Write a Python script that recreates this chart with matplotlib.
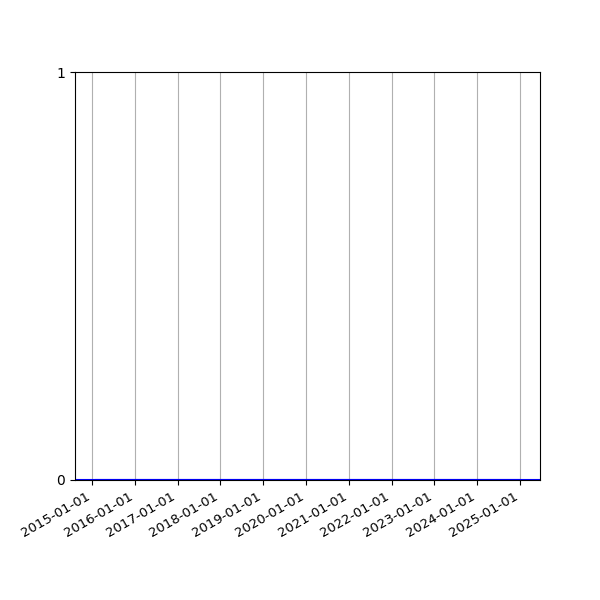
import pandas as pd
import matplotlib
matplotlib.use('Agg')
import matplotlib.pyplot as plt
import matplotlib.dates as mdates

DATES = pd.to_datetime(['2015-02-05', '2024-12-22'])
VALUES = [0, 0]
YTICKS = [0, 1]

fig, ax = plt.subplots(figsize=(6, 6), dpi=100)
ax.plot(DATES, VALUES, color='b')
ax.axhline(0, color='b')

ax.set_ylim(0, 1)
ax.set_yticks(YTICKS)
ax.xaxis.set_major_locator(mdates.YearLocator())
ax.xaxis.set_major_formatter(mdates.DateFormatter('%Y-%m-%d'))
ax.tick_params(axis='x', labelsize=9.5)
ax.grid(True, axis='x')
fig.autofmt_xdate()

plt.savefig('out.png')
